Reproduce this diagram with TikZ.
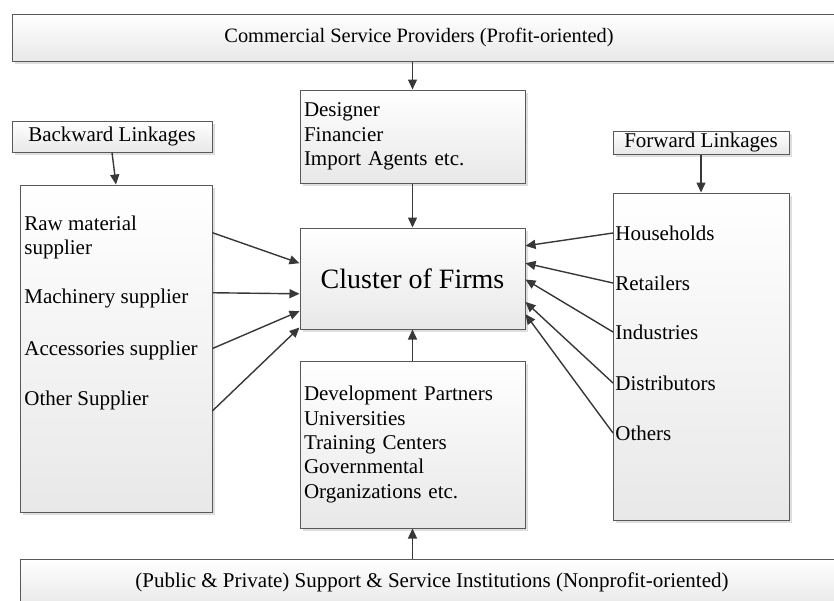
\documentclass[tikz,border=0pt]{standalone}
\usepackage{fontspec}
\setmainfont{Liberation Serif}
\usepackage{tikz}
\usetikzlibrary{arrows.meta, positioning, calc, shadows}

\tikzset{
  box/.style={draw=black!65, line width=0.5pt, top color=white, bottom color=black!9,
    drop shadow={shadow xshift=1.3pt, shadow yshift=-1.3pt, fill=black!25, opacity=0.5},
    inner sep=0pt, font=\fontsize{10.5}{12.2}\selectfont},
  item/.style={anchor=west, inner sep=1pt, align=left, font=\fontsize{10.5}{12.2}\selectfont},
  link/.style={draw=black!78, line width=0.7pt, -{Triangle[length=5pt,width=4.5pt]}},
}

\begin{document}
\begin{tikzpicture}[x=0.5pt, y=-0.5pt]
\clip (0,0) rectangle (834,600);
\fill[white] (0,0) rectangle (834,600);

% Outer bands
\node[box, minimum width=414pt, minimum height=23.5pt, font=\fontsize{10.2}{12}\selectfont] (comm) at (426,37.5)
  {Commercial Service Providers (Profit-oriented)\hspace*{7pt}};
\node[box, minimum width=412pt, minimum height=23pt] (supp) at (432,582)
  {(Public \& Private) Support \& Service Institutions (Nonprofit-oriented)};

% Linkage headers
\node[box, minimum width=100pt, minimum height=15.5pt] (back) at (112,136.5) {Backward Linkages};
\node[box, minimum width=88pt, minimum height=11.5pt] (fwd) at (701,142.5) {Forward Linkages};

% Side boxes
\node[box, minimum width=96pt, minimum height=163.5pt] (bwbox) at (116,348.5) {};
\node[box, minimum width=88pt, minimum height=163.5pt] (fwbox) at (701,356.5) {};

% Middle column
\node[box, minimum width=112.5pt, minimum height=46.5pt, text width=108.5pt, align=left] (serv) at (412.5,136.5)
  {Designer\\Financier\\Import Agents etc.};
\node[box, minimum width=112.5pt, minimum height=50.5pt, font=\fontsize{14}{16}\selectfont] (clu) at (412.5,278.5)
  {Cluster of Firms};
\node[box, minimum width=112.5pt, minimum height=83.5pt, text width=108.5pt, align=left] (inst) at (412.5,444.5)
  {Development Partners\\Universities\\Training Centers\\Governmental\\Organizations etc.};

% Suppliers
\node[item] (raw) at (22,237.5) {Raw material\\supplier};
\node[item] (mach) at (22,298) {Machinery supplier};
\node[item] (acc) at (22,350) {Accessories supplier};
\node[item] (oth) at (22,400) {Other Supplier};

% Customers
\node[item] (hh) at (613,233) {Households};
\node[item] (ret) at (613,283) {Retailers};
\node[item] (ind) at (613,332) {Industries};
\node[item] (dis) at (613,383) {Distributors};
\node[item] (ots) at (613,433) {Others};

% Vertical links
\draw[link] (serv.north |- comm.south) -- (serv.north);
\draw[link] (serv.south) -- (clu.north);
\draw[link] (inst.north) -- (clu.south);
\draw[link] (inst.south |- supp.north) -- (inst.south);
\draw[link] (back.south) -- (bwbox.north);
\draw[link] (fwd.south) -- (fwbox.north);

% Backward links
\draw[link] ($(bwbox.north east)!0.147!(bwbox.south east)$) -- ($(clu.north west)!0.35!(clu.south west)$);
\draw[link] ($(bwbox.north east)!0.33!(bwbox.south east)$) -- ($(clu.north west)!0.65!(clu.south west)$);
\draw[link] ($(bwbox.north east)!0.50!(bwbox.south east)$) -- ($(clu.north west)!0.82!(clu.south west)$);
\draw[link] ($(bwbox.north east)!0.69!(bwbox.south east)$) -- ($(clu.north west)!0.98!(clu.south west)$);

% Forward links
\draw[link] (hh.west) -- ($(clu.north east)!0.18!(clu.south east)$);
\draw[link] (ret.west) -- ($(clu.north east)!0.35!(clu.south east)$);
\draw[link] (ind.west) -- ($(clu.north east)!0.51!(clu.south east)$);
\draw[link] (dis.west) -- ($(clu.north east)!0.73!(clu.south east)$);
\draw[link] (ots.west) -- ($(clu.north east)!0.85!(clu.south east)$);
\end{tikzpicture}
\end{document}
